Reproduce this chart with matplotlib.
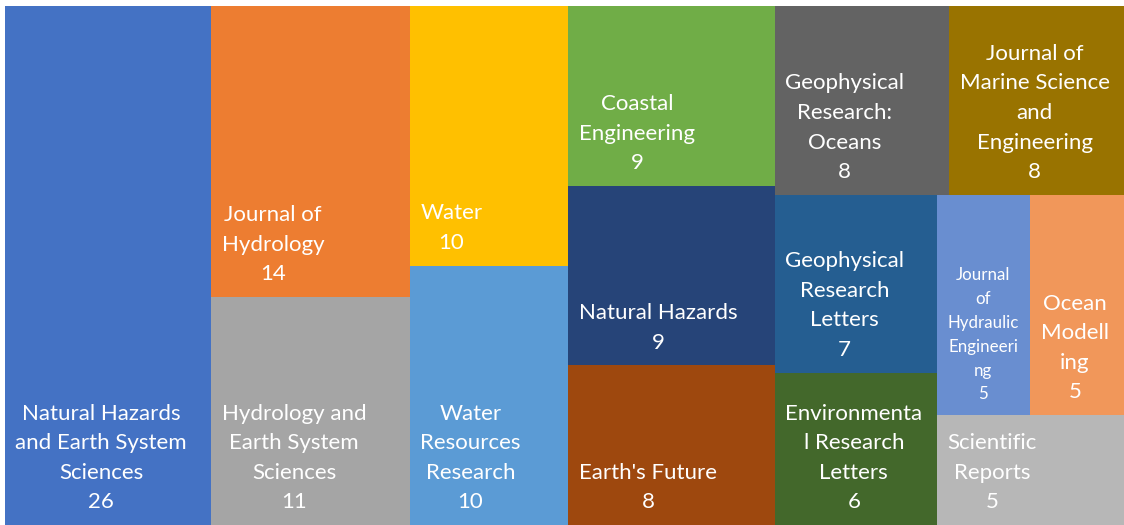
import matplotlib.pyplot as plt
from matplotlib.patches import Rectangle

plt.rcParams['font.family'] = ['Lato', 'DejaVu Sans']

# journals and paper counts (labels wrapped as in the chart)
labels = [
    "Natural Hazards\nand Earth System\nSciences",
    "Journal of\nHydrology",
    "Hydrology and\nEarth System\nSciences",
    "Water",
    "Water\nResources\nResearch",
    "Coastal\nEngineering",
    "Natural Hazards",
    "Earth's Future",
    "Geophysical\nResearch:\nOceans",
    "Journal of\nMarine Science\nand\nEngineering",
    "Geophysical\nResearch\nLetters",
    "Environmenta\nl Research\nLetters",
    "Journal\nof\nHydraulic\nEngineeri\nng",
    "Ocean\nModell\ning",
    "Scientific\nReports",
]
values = [26, 14, 11, 10, 10, 9, 9, 8, 8, 8, 7, 6, 5, 5, 5]
colors = ["#4472C4", "#ED7D31", "#A5A5A5", "#FFC000", "#5B9BD5", "#70AD47",
          "#264478", "#9E480E", "#636363", "#997300", "#255E91", "#43682B",
          "#698ED0", "#F1975A", "#B7B7B7"]
small = [12]  # labels drawn with a smaller font

# how Excel grouped the tiles: 'row' splits width, 'col' splits height
layout = ('row', [('col', [0]), ('col', [1, 2]), ('col', [3, 4]), ('col', [5, 6, 7]),
                  ('col', [('row', [8, 9]),
                           ('row', [('col', [10, 11]),
                                    ('col', [('row', [12, 13]), ('row', [14])])])])])


def total(node):
    if isinstance(node, int):
        return values[node]
    return sum(total(c) for c in node[1])


def place(node, x, y, w, h, out):
    if isinstance(node, int):
        out[node] = (x, y, w, h)
        return
    kind, kids = node
    s = total(node)
    for k in kids:
        f = total(k) / s
        if kind == 'row':
            place(k, x, y, w * f, h, out)
            x += w * f
        else:
            place(k, x, y, w, h * f, out)
            y += h * f


rects = {}
place(layout, 0, 0, 1, 1, rects)

fig = plt.figure(figsize=(11.24, 5.25), dpi=100)
ax = fig.add_axes([5 / 1124, 0, 1119 / 1124, 519 / 525])
ax.set_xlim(0, 1)
ax.set_ylim(1, 0)
ax.axis('off')

for i, (x, y, w, h) in rects.items():
    ax.add_patch(Rectangle((x, y), w, h, facecolor=colors[i], edgecolor='none'))
    fs = 12.2 if i in small else 16
    ax.annotate(f"{labels[i]}\n{values[i]}", (x, y + h), xytext=(7.5, 9),
                textcoords='offset points', ha='left', va='bottom',
                multialignment='center', color='white', fontsize=fs,
                linespacing=1.6)

fig.savefig("out.png", dpi=100)
